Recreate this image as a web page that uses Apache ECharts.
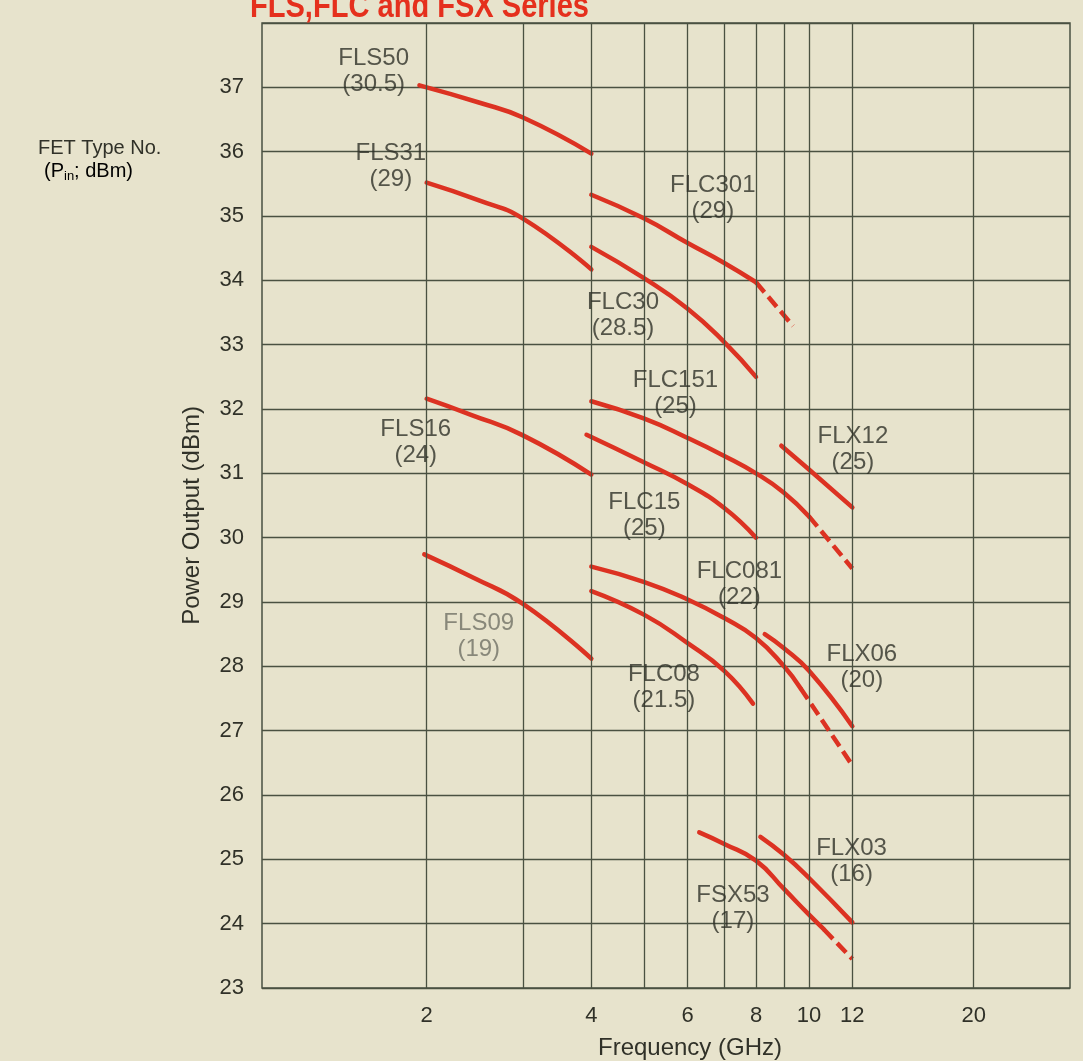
<!DOCTYPE html>
<html>
<head>
<meta charset="utf-8">
<script src="https://cdn.jsdelivr.net/npm/echarts@6/dist/echarts.min.js"></script>
<style>
  html, body { margin: 0; padding: 0; background: #e7e3cc; }
  #chart { width: 1083px; height: 1061px; }
</style>
</head>
<body>
<div id="chart"></div>
<script>
// Frequency grid lines and labelled frequencies (GHz)
const freqGrid = [2, 3, 4, 5, 6, 7, 8, 9, 10, 12, 20];
const freqTicks = [2, 4, 6, 8, 10, 12, 20];

// Output power range (dBm)
const powerMin = 23;
const powerMax = 38;

// Power output curves: [frequency GHz, output dBm]
const fls50 = [[1.94, 37.03], [2.5, 36.76], [3, 36.53], [4, 35.97]];
const fls31 = [[2, 35.52], [2.5, 35.24], [3, 34.96], [4, 34.17]];
const flc301 = [[4, 35.33], [5, 34.96], [6, 34.58], [7, 34.27], [8, 33.97]];
const flc301Ext = [[8, 33.97], [9.35, 33.29]];
const flc30 = [[4, 34.52], [5, 34.03], [6, 33.56], [7, 33.04], [8, 32.5]];
const flc151 = [[4, 32.12], [5, 31.85], [6, 31.55], [7, 31.27], [8, 31.0], [9, 30.7], [10, 30.33]];
const flc151Ext = [[10, 30.33], [12, 29.52]];
const fls16 = [[2, 32.16], [2.41, 31.91], [3, 31.59], [4, 30.98]];
const flx12 = [[8.9, 31.43], [10, 31.06], [12, 30.47]];
const flc15 = [[3.92, 31.6], [5, 31.17], [6, 30.83], [7, 30.46], [8, 30.0]];
const flc081 = [[4, 29.55], [5, 29.31], [6, 29.04], [7, 28.75], [8, 28.44], [9, 28.0], [9.65, 27.66]];
const flc081Ext = [[9.65, 27.66], [12, 26.46]];
const fls09 = [[1.98, 29.74], [2.43, 29.38], [3, 28.97], [4, 28.12]];
const flc08 = [[4, 29.17], [5, 28.8], [6, 28.36], [7, 27.93], [7.9, 27.42]];
const flx06 = [[8.3, 28.5], [9, 28.28], [10, 27.93], [12, 27.07]];
const flx03 = [[8.15, 25.35], [9, 25.07], [10, 24.71], [12, 24.02]];
const fsx53 = [[6.3, 25.42], [7, 25.24], [8, 24.98], [9, 24.54], [10, 24.14], [10.65, 23.91]];
const fsx53Ext = [[10.65, 23.91], [12, 23.45]];

// FET type numbers and their input drive (Pin, dBm)
const fetTypes = ['FLS50', 'FLS31', 'FLC301', 'FLC30', 'FLC151', 'FLS16', 'FLX12',
                  'FLC15', 'FLC081', 'FLS09', 'FLC08', 'FLX06', 'FLX03', 'FSX53'];
const pinDbm = ['30.5', '29', '29', '28.5', '25', '24', '25',
                '25', '22', '19', '21.5', '20', '16', '17'];

// Where each type label sits, in chart coordinates [GHz, dBm]
const labelAt = [[1.6, 37.25], [1.72, 35.77], [6.67, 35.28], [4.57, 33.46], [5.7, 32.25],
                 [1.91, 31.48], [12.03, 31.37], [5.0, 30.34], [7.46, 29.27], [2.49, 28.47],
                 [5.43, 27.67], [12.49, 27.99], [11.96, 24.97], [7.26, 24.24]];

const FONT = "'Liberation Sans', Arial, sans-serif";
const INK = '#303128';
const GRID = '#4a5141';
const RED = '#dc3222';

const solidCurves = [fls50, fls31, flc301, flc30, flc151, fls16, flx12, flc15, flc081, fls09, flc08, flx06, flx03, fsx53];
const dashedCurves = [flc301Ext, flc151Ext, flc081Ext, fsx53Ext];

const series = [];

// vertical frequency grid
series.push({
  type: 'line',
  data: [],
  silent: true,
  z: 1,
  markLine: {
    silent: true,
    symbol: ['none', 'none'],
    label: { show: false },
    lineStyle: { color: GRID, width: 1.3, type: 'solid' },
    emphasis: { disabled: true },
    data: freqGrid.map(f => ({ xAxis: f }))
  }
});

solidCurves.forEach((d, i) => {
  series.push({
    type: 'line',
    name: fetTypes[i],
    data: d,
    smooth: 0.5,
    showSymbol: false,
    silent: true,
    z: 3,
    lineStyle: { color: RED, width: 4.5, cap: 'round' }
  });
});

dashedCurves.forEach(d => {
  series.push({
    type: 'line',
    data: d,
    showSymbol: false,
    silent: true,
    z: 3,
    lineStyle: { color: RED, width: 4.5, type: [13, 6] }
  });
});

// type labels: name over (Pin)
series.push({
  type: 'scatter',
  symbolSize: 0,
  silent: true,
  z: 5,
  data: labelAt.map((p, i) => ({ value: p, name: fetTypes[i] })),
  label: {
    show: true,
    position: 'inside',
    formatter: p => {
      const key = fetTypes[p.dataIndex] === 'FLS09' ? 'g' : 'n';
      return `{${key}|${p.name}}\n{${key}|(${pinDbm[p.dataIndex]})}`;
    },
    rich: {
      n: { fontFamily: FONT, fontSize: 24, lineHeight: 26, color: INK, align: 'center' },
      g: { fontFamily: FONT, fontSize: 24, lineHeight: 26, color: '#707165', align: 'center' }
    }
  }
});

const chart = echarts.init(document.getElementById('chart'), null, { renderer: 'canvas' });
chart.setOption({
  animation: false,
  backgroundColor: '#e7e3cc',
  grid: {
    left: 262, right: 13, top: 23, bottom: 73,
    outerBoundsMode: 'none',
    show: true, borderColor: GRID, borderWidth: 1.5, backgroundColor: 'transparent'
  },
  xAxis: {
    type: 'log',
    logBase: 10,
    min: 1,
    max: 30,
    name: 'Frequency (GHz)',
    nameLocation: 'middle',
    nameGap: 48,
    nameTextStyle: { fontFamily: FONT, fontSize: 24, color: INK, padding: [0, 0, 0, 48] },
    axisLine: { show: false },
    axisTick: { show: false },
    splitLine: { show: false },
    minorSplitLine: { show: false },
    axisLabel: {
      customValues: freqTicks,
      margin: 17,
      fontFamily: FONT, fontSize: 22, color: INK,
      formatter: v => String(Math.round(v))
    }
  },
  yAxis: {
    type: 'value',
    min: powerMin,
    max: powerMax,
    interval: 1,
    name: 'Power Output (dBm)',
    nameLocation: 'middle',
    nameGap: 58,
    nameRotate: 90,
    nameTextStyle: { fontFamily: FONT, fontSize: 24, color: INK, padding: [0, 20, 0, 0] },
    axisLine: { show: false },
    axisTick: { show: false },
    splitLine: { show: true, lineStyle: { color: GRID, width: 1.3 } },
    axisLabel: {
      margin: 18,
      fontFamily: FONT, fontSize: 22, color: INK,
      formatter: v => (v >= powerMax ? '' : String(v))
    }
  },
  graphic: [
    {
      type: 'text', x: 250, y: 7, scaleX: 0.83, z: 10,
      style: { text: 'FLS,FLC and FSX Series', fill: '#e5301d', verticalAlign: 'middle',
               font: "bold 35px 'Liberation Sans', Arial, sans-serif" }
    },
    {
      type: 'text', left: 38, top: 138, z: 10,
      style: { text: 'FET Type No.', fill: INK, font: "20px 'Liberation Sans', Arial, sans-serif" }
    },
    {
      type: 'text', left: 44, top: 161, z: 10,
      style: {
        text: '{m|(P}{s|in}{m|; dBm)}',
        rich: {
          m: { fontFamily: FONT, fontSize: 20, color: INK, lineHeight: 24 },
          s: { fontFamily: FONT, fontSize: 13, color: INK, lineHeight: 14, verticalAlign: 'bottom' }
        }
      }
    }
  ],
  series: series
});
</script>
</body>
</html>
